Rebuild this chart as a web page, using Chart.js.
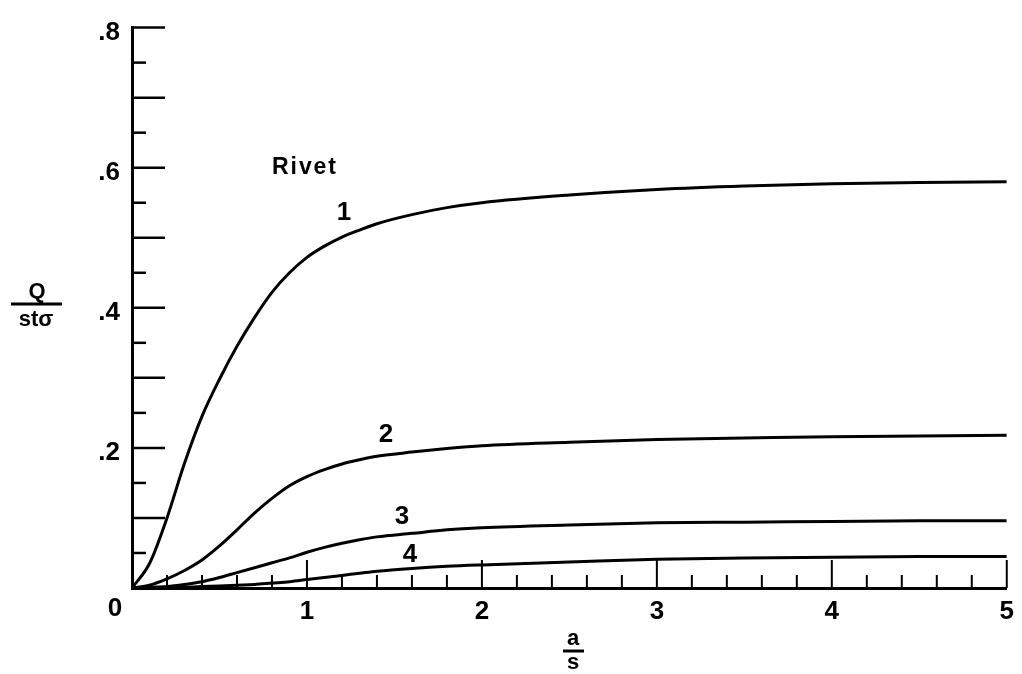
<!DOCTYPE html>
<html>
<head>
<meta charset="utf-8">
<script src="https://cdn.jsdelivr.net/npm/chart.js@4.4.1/dist/chart.umd.min.js"></script>
<style>
  html, body { margin: 0; padding: 0; background: #fff; }
  #wrap { width: 1022px; height: 674px; }
</style>
</head>
<body>
<div id="wrap"><canvas id="c" width="1022" height="674"></canvas></div>
<script>
// ---- data ----
const aOverS = [0, 0.1, 0.2, 0.3, 0.4, 0.5, 0.6, 0.7, 0.8, 0.9, 1.0, 1.1, 1.2, 1.3, 1.4, 1.6, 1.8, 2.0, 2.5, 3.0, 3.5, 4.0, 4.5, 5.0];
const rivet1 = [0, 0.035, 0.100, 0.178, 0.245, 0.298, 0.345, 0.386, 0.422, 0.450, 0.472, 0.488, 0.501, 0.511, 0.520, 0.533, 0.543, 0.550, 0.561, 0.569, 0.574, 0.577, 0.579, 0.580];
const rivet2 = [0, 0.004, 0.013, 0.025, 0.040, 0.060, 0.083, 0.107, 0.128, 0.146, 0.159, 0.169, 0.177, 0.183, 0.188, 0.194, 0.199, 0.203, 0.208, 0.212, 0.214, 0.216, 0.217, 0.218];
const rivet3 = [0, 0.001, 0.002, 0.005, 0.009, 0.015, 0.022, 0.029, 0.036, 0.043, 0.051, 0.058, 0.064, 0.069, 0.073, 0.078, 0.083, 0.086, 0.090, 0.093, 0.094, 0.095, 0.096, 0.096];
const rivet4 = [0, 0.000, 0.000, 0.001, 0.002, 0.003, 0.004, 0.005, 0.007, 0.009, 0.012, 0.015, 0.018, 0.021, 0.024, 0.028, 0.031, 0.033, 0.037, 0.041, 0.043, 0.044, 0.045, 0.045];
const seriesNames = ['1', '2', '3', '4'];
const xTickLabels = ['0', '1', '2', '3', '4', '5'];
const yTickLabels = ['.2', '.4', '.6', '.8'];
const annotationTitle = 'Rivet';
const yTitle = ['Q', 'st\u03C3'];
const xTitle = ['a', 's'];

const FONT = '"Liberation Sans", Arial, Helvetica, sans-serif';

function toPoints(ys) { return aOverS.map((x, i) => ({ x: x, y: ys[i] })); }

const seriesData = [rivet1, rivet2, rivet3, rivet4];
const datasets = seriesData.map((ys, i) => ({
  label: 'Rivet ' + seriesNames[i],
  data: toPoints(ys),
  showLine: true,
  borderColor: '#000',
  borderWidth: 3,
  pointRadius: 0,
  cubicInterpolationMode: 'monotone',
  fill: false
}));

function isMultiple(v, step) {
  const r = v / step;
  return Math.abs(r - Math.round(r)) < 1e-6;
}

// inward tick marks + texts
const decor = {
  id: 'decor',
  afterDatasetsDraw(chart) {
    const ctx = chart.ctx;
    const xs = chart.scales.x, ys = chart.scales.y;
    const area = chart.chartArea;
    ctx.save();
    ctx.strokeStyle = '#000';
    ctx.lineCap = 'butt';
    // x ticks (pointing up)
    ctx.lineWidth = 2;
    xs.ticks.forEach(t => {
      if (t.value <= 1e-9) return;
      const px = xs.getPixelForValue(t.value);
      const len = isMultiple(t.value, 1) ? 28 : 13;
      ctx.beginPath();
      ctx.moveTo(px, area.bottom);
      ctx.lineTo(px, area.bottom - len);
      ctx.stroke();
    });
    // y ticks (pointing right)
    ctx.lineWidth = 2.5;
    ys.ticks.forEach(t => {
      if (t.value <= 1e-9) return;
      const py = ys.getPixelForValue(t.value);
      const len = isMultiple(t.value, 0.1) ? 33 : 14;
      ctx.beginPath();
      ctx.moveTo(area.left, py);
      ctx.lineTo(area.left + len, py);
      ctx.stroke();
    });

    ctx.fillStyle = '#000';
    ctx.textAlign = 'center';
    ctx.textBaseline = 'middle';
    // origin label
    ctx.font = 'bold 26px ' + FONT;
    ctx.fillText(xTickLabels[0], xs.getPixelForValue(0) - 17, area.bottom + 21);

    // annotation labels near curves
    ctx.font = 'bold 23px ' + FONT;
    ctx.fillText(annotationTitle.split('').join(String.fromCharCode(8202)), 304, 168);
    ctx.font = 'bold 26px ' + FONT;
    const labelPos = [[344, 213], [386, 435], [402, 517], [410, 555]];
    seriesNames.forEach((n, i) => ctx.fillText(n, labelPos[i][0], labelPos[i][1]));

    // y title as fraction
    ctx.font = 'bold 22px ' + FONT;
    ctx.fillText(yTitle[0], 37, 292);
    ctx.fillText(yTitle[1], 36, 320);
    ctx.lineWidth = 3;
    ctx.beginPath(); ctx.moveTo(11, 304); ctx.lineTo(62, 304); ctx.stroke();

    // x title as fraction
    ctx.font = 'bold 22px ' + FONT;
    ctx.fillText(xTitle[0], 573, 639);
    ctx.fillText(xTitle[1], 573, 663);
    ctx.beginPath(); ctx.moveTo(563, 651); ctx.lineTo(584, 651); ctx.stroke();
    ctx.restore();
  }
};

new Chart(document.getElementById('c'), {
  type: 'scatter',
  data: { datasets: datasets },
  options: {
    responsive: false,
    animation: false,
    devicePixelRatio: 1,
    layout: { padding: { left: 0, top: 18, right: 10, bottom: 0 } },
    plugins: { legend: { display: false }, tooltip: { enabled: false } },
    scales: {
      x: {
        type: 'linear',
        min: 0, max: 5,
        grid: { drawOnChartArea: false, drawTicks: false, color: 'rgba(0,0,0,0)' },
        border: { display: true, color: '#000', width: 3 },
        ticks: {
          stepSize: 0.2,
          autoSkip: false,
          maxRotation: 0,
          padding: 8,
          color: '#000',
          font: { family: FONT, size: 26, weight: 'bold' },
          callback: function (v) {
            if (!isMultiple(v, 1)) return '';
            const i = Math.round(v);
            return i === 0 ? '' : xTickLabels[i];
          }
        },
        afterFit: function (s) { s.height = 86; }
      },
      y: {
        type: 'linear',
        min: 0, max: 0.8,
        grid: { drawOnChartArea: false, drawTicks: false, color: 'rgba(0,0,0,0)' },
        border: { display: true, color: '#000', width: 3 },
        ticks: {
          stepSize: 0.05,
          autoSkip: false,
          padding: 12,
          labelOffset: 5,
          color: '#000',
          font: { family: FONT, size: 26, weight: 'bold' },
          callback: function (v) {
            if (v <= 1e-9 || !isMultiple(v, 0.2)) return '';
            return yTickLabels[Math.round(v / 0.2) - 1];
          }
        },
        afterFit: function (s) { s.width = 132; }
      }
    }
  },
  plugins: [decor]
});
</script>
</body>
</html>
